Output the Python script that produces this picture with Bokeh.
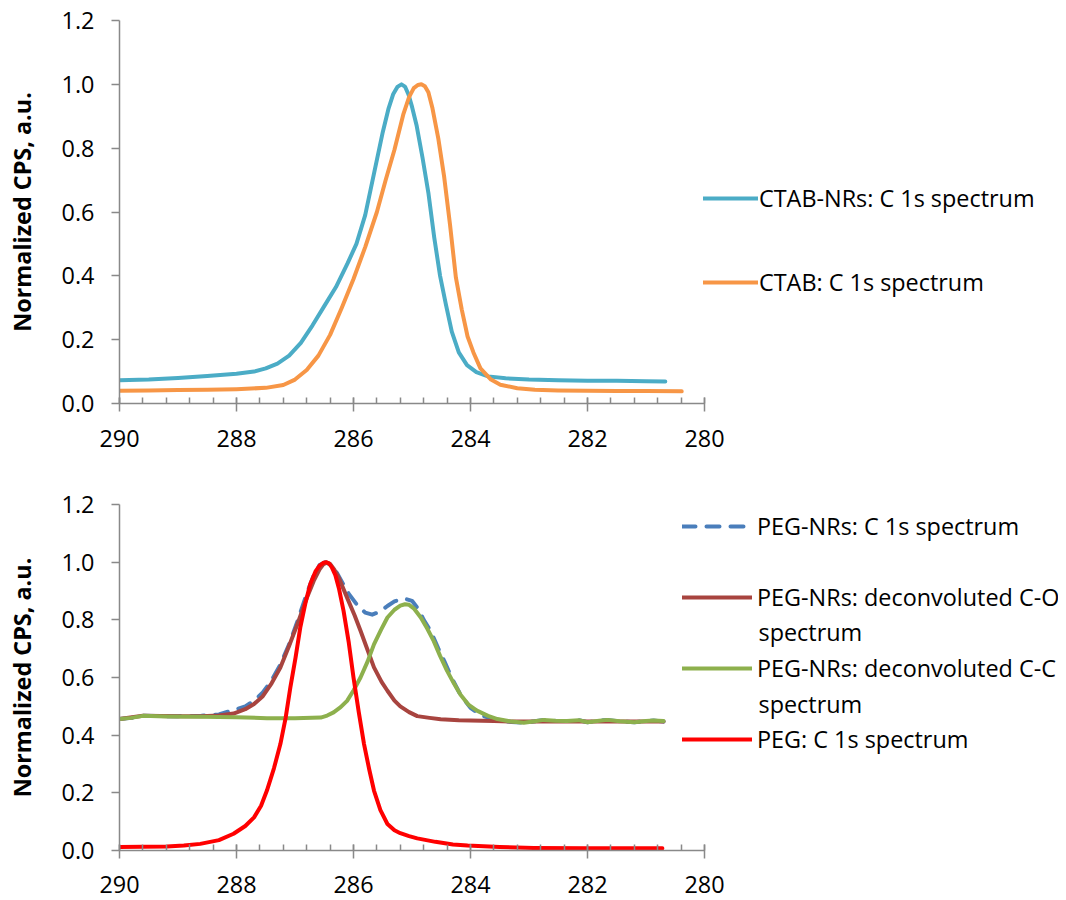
import numpy as np
from bokeh.plotting import figure
from bokeh.models import (Range1d, FixedTicker, PrintfTickFormatter, Legend, LegendItem, Label)
from bokeh.layouts import column
from bokeh.embed import file_html
from bokeh.resources import INLINE

# ---------------- data: top panel ----------------
ctab_nrs_x = [290.0, 289.5, 289.0, 288.5, 288.0, 287.7, 287.5, 287.3, 287.1, 286.9, 286.7, 286.5,
              286.3, 286.1, 285.95, 285.8, 285.65, 285.5, 285.4, 285.32, 285.25, 285.18, 285.12,
              285.06, 285.0, 284.92, 284.82, 284.72, 284.62, 284.52, 284.42, 284.32, 284.2,
              284.06, 283.9, 283.7, 283.4, 283.0, 282.5, 282.0, 281.5, 281.0, 280.67]
ctab_nrs_y = [0.073, 0.075, 0.080, 0.086, 0.093, 0.100, 0.110, 0.125, 0.150, 0.190, 0.245, 0.305,
              0.365, 0.440, 0.500, 0.590, 0.720, 0.850, 0.925, 0.970, 0.992, 1.000, 0.993,
              0.968, 0.930, 0.870, 0.770, 0.660, 0.520, 0.400, 0.310, 0.225, 0.160,
              0.120, 0.098, 0.085, 0.079, 0.075, 0.073, 0.071, 0.071, 0.070, 0.069]

ctab_x = [290.0, 289.5, 289.0, 288.5, 288.0, 287.5, 287.2, 287.0, 286.8, 286.6, 286.4, 286.2,
          286.0, 285.8, 285.6, 285.45, 285.3, 285.15, 285.05, 284.97, 284.9, 284.84, 284.78,
          284.72, 284.65, 284.55, 284.45, 284.35, 284.25, 284.15, 284.05, 283.95, 283.83,
          283.65, 283.49, 283.2, 282.9, 282.5, 282.0, 281.5, 281.0, 280.39]
ctab_y = [0.040, 0.041, 0.042, 0.043, 0.045, 0.049, 0.058, 0.075, 0.105, 0.150, 0.215, 0.300,
          0.390, 0.490, 0.600, 0.700, 0.795, 0.905, 0.960, 0.988, 0.998, 1.000, 0.994,
          0.975, 0.925, 0.830, 0.710, 0.560, 0.395, 0.295, 0.210, 0.160, 0.110,
          0.075, 0.059, 0.048, 0.043, 0.041, 0.040, 0.039, 0.039, 0.038]

# ---------------- data: bottom panel ----------------
peg_nrs_x = [290.0, 289.8, 289.6, 289.3, 289.0, 288.6, 288.3, 288.05, 287.85, 287.7, 287.55, 287.4,
             287.25, 287.1, 286.95, 286.8, 286.68, 286.58, 286.48, 286.38, 286.28, 286.18, 286.08,
             285.95, 285.8, 285.68, 285.55, 285.42, 285.3, 285.2, 285.1, 285.0, 284.9, 284.8,
             284.68, 284.55, 284.45, 284.3, 284.17, 284.0, 283.83, 283.65, 283.49, 283.3, 283.09,
             282.9, 282.75, 282.55, 282.35, 282.15, 282.0, 281.8, 281.66, 281.45, 281.2, 281.0,
             280.87, 280.7]
peg_nrs_y = [0.456, 0.460, 0.467, 0.466, 0.466, 0.467, 0.472, 0.487, 0.500, 0.519, 0.548, 0.590,
             0.645, 0.715, 0.800, 0.890, 0.955, 0.990, 1.000, 0.990, 0.962, 0.925, 0.890,
             0.855, 0.825, 0.818, 0.828, 0.848, 0.864, 0.871, 0.872, 0.866, 0.840, 0.800,
             0.761, 0.700, 0.658, 0.590, 0.540, 0.495, 0.470, 0.458, 0.450, 0.446, 0.443,
             0.448, 0.453, 0.450, 0.449, 0.452, 0.445, 0.450, 0.453, 0.448, 0.445, 0.449,
             0.451, 0.447]

co_x = [290.0, 289.6, 289.0, 288.6, 288.3, 288.05, 287.85, 287.7, 287.55, 287.4, 287.25, 287.1,
        286.95, 286.8, 286.68, 286.58, 286.52, 286.46, 286.4, 286.33, 286.25, 286.11, 285.98,
        285.88, 285.75, 285.65, 285.52, 285.42, 285.3, 285.2, 285.05, 284.91, 284.7, 284.51,
        284.2, 284.0, 283.6, 283.3, 282.5, 281.5, 280.7]
co_y = [0.456, 0.467, 0.466, 0.466, 0.468, 0.475, 0.490, 0.508, 0.535, 0.580, 0.635, 0.710,
        0.790, 0.875, 0.935, 0.975, 0.992, 0.998, 0.994, 0.975, 0.945, 0.877, 0.815,
        0.762, 0.690, 0.635, 0.585, 0.554, 0.520, 0.500, 0.480, 0.466, 0.460, 0.455,
        0.452, 0.451, 0.449, 0.447, 0.447, 0.447, 0.447]

cc_x = [290.0, 289.8, 289.6, 289.2, 288.6, 288.0, 287.48, 287.0, 286.56, 286.45, 286.34, 286.22,
        286.11, 286.0, 285.88, 285.76, 285.65, 285.53, 285.42, 285.3, 285.2, 285.12, 285.05,
        284.97, 284.85, 284.74, 284.63, 284.52, 284.4, 284.28, 284.17, 284.03, 283.89, 283.7,
        283.54, 283.3, 283.09, 282.9, 282.75, 282.55, 282.35, 282.15, 282.0, 281.8, 281.66,
        281.45, 281.2, 281.0, 280.87, 280.7]
cc_y = [0.456, 0.460, 0.467, 0.465, 0.464, 0.462, 0.459, 0.459, 0.461, 0.468, 0.479, 0.497,
        0.519, 0.555, 0.600, 0.655, 0.715, 0.765, 0.808, 0.835, 0.849, 0.854, 0.852,
        0.840, 0.808, 0.770, 0.727, 0.675, 0.623, 0.578, 0.540, 0.505, 0.485, 0.467,
        0.456, 0.447, 0.443, 0.448, 0.453, 0.450, 0.449, 0.452, 0.445, 0.450, 0.453,
        0.448, 0.445, 0.449, 0.451, 0.449]

peg_x = [290.0, 289.6, 289.19, 288.9, 288.62, 288.3, 288.05, 287.85, 287.7, 287.58, 287.48, 287.36,
         287.25, 287.16, 287.08, 286.99, 286.91, 286.82, 286.74, 286.65, 286.58, 286.52, 286.47,
         286.42, 286.37, 286.31, 286.25, 286.17, 286.08, 286.0, 285.91, 285.82, 285.73, 285.65,
         285.54, 285.42, 285.3, 285.2, 285.05, 284.91, 284.6, 284.3, 284.05, 283.5, 282.92,
         282.0, 281.3, 280.72]
peg_y = [0.012, 0.013, 0.014, 0.017, 0.023, 0.036, 0.058, 0.085, 0.115, 0.155, 0.208, 0.285,
         0.369, 0.460, 0.565, 0.670, 0.773, 0.860, 0.923, 0.968, 0.988, 0.997, 1.000,
         0.996, 0.982, 0.955, 0.910, 0.831, 0.720, 0.600, 0.480, 0.369, 0.280, 0.208,
         0.140, 0.092, 0.070, 0.060, 0.050, 0.042, 0.030, 0.021, 0.017, 0.012, 0.009,
         0.008, 0.008, 0.008]

x_major = [280, 282, 284, 286, 288, 290]
y_major = [0.0, 0.2, 0.4, 0.6, 0.8, 1.0, 1.2]

FONT = "Open Sans"
FS = "23.4px"
AXIS_COLOR = "#898989"


def make_fig(height, top, bottom, label_standoff):
    p = figure(width=1058, height=height,
               x_range=Range1d(290, 290 - 939 / 58.5), y_range=Range1d(0, 1.2),
               output_backend="svg", toolbar_location=None,
               min_border_left=119, min_border_right=0,
               min_border_top=top, min_border_bottom=bottom)
    p.outline_line_color = None
    p.xgrid.visible = False
    p.ygrid.visible = False
    p.background_fill_color = "white"
    p.border_fill_color = "white"

    xa = p.xaxis[0]
    xa.ticker = FixedTicker(ticks=x_major,
                            minor_ticks=[round(v, 1) for v in np.arange(280, 290.01, 0.4)])
    xa.bounds = (280, 290)
    xa.formatter = PrintfTickFormatter(format="%d")
    xa.axis_line_color = AXIS_COLOR
    xa.axis_line_width = 1.5
    xa.major_tick_line_color = AXIS_COLOR
    xa.major_tick_line_width = 1.5
    xa.minor_tick_line_color = AXIS_COLOR
    xa.minor_tick_line_width = 1.5
    xa.major_tick_in = 6
    xa.major_tick_out = 8
    xa.minor_tick_in = 6
    xa.minor_tick_out = 0
    xa.major_label_standoff = label_standoff
    xa.major_label_text_font = FONT
    xa.major_label_text_font_size = FS
    xa.major_label_text_color = "black"

    ya = p.yaxis[0]
    ya.ticker = FixedTicker(ticks=y_major)
    ya.formatter = PrintfTickFormatter(format="%.1f")
    ya.axis_line_color = AXIS_COLOR
    ya.axis_line_width = 1.5
    ya.major_tick_line_color = AXIS_COLOR
    ya.major_tick_line_width = 1.5
    ya.minor_tick_line_color = None
    ya.major_tick_in = 0
    ya.major_tick_out = 8
    ya.major_label_standoff = 17
    ya.major_label_text_font = FONT
    ya.major_label_text_font_size = FS
    ya.major_label_text_color = "black"
    ya.axis_label = "Normalized CPS, a.u."
    ya.axis_label_text_font = FONT
    ya.axis_label_text_font_size = FS
    ya.axis_label_text_font_style = "bold"
    ya.axis_label_text_color = "black"
    ya.axis_label_standoff = 21
    return p


def add_legend(p, renderer, text, left, bottom, glyph_w, standoff):
    lg = Legend(items=[LegendItem(label=text, renderers=[renderer])],
                location=(left, bottom), margin=0, padding=0, spacing=0,
                glyph_width=glyph_w, glyph_height=30, label_height=30,
                label_standoff=standoff, border_line_color=None,
                background_fill_alpha=0.0,
                label_text_font=FONT, label_text_font_size=FS,
                label_text_color="black")
    p.add_layout(lg, "center")


LW = 4

# ---------------- top figure (page y 0..470, frame 20..403) ----------------
p1 = make_fig(470, 20, 67, 18)
r_nrs = p1.line(ctab_nrs_x, ctab_nrs_y, line_color="#4BACC6", line_width=LW,
                line_cap="round", line_join="round")
r_ctab = p1.line(ctab_x, ctab_y, line_color="#F79646", line_width=LW,
                 line_cap="round", line_join="round")
add_legend(p1, r_nrs, "CTAB-NRs: C 1s spectrum", 584, 403 - 199 - 15, 55, 1)
add_legend(p1, r_ctab, "CTAB: C 1s spectrum", 584, 403 - 283 - 15, 55, 1)

# ---------------- bottom figure (page y 470..900, frame 504..850) ----------------
p2 = make_fig(430, 34, 50, 17)
r_pn = p2.line(peg_nrs_x, peg_nrs_y, line_color="#4A7EBB", line_width=LW,
               line_dash="13 11", line_cap="round", line_join="round")
r_co = p2.line(co_x, co_y, line_color="#A8443F", line_width=LW,
               line_cap="round", line_join="round")
r_cc = p2.line(cc_x, cc_y, line_color="#8DB04D", line_width=LW,
               line_cap="round", line_join="round")
r_peg = p2.line(peg_x, peg_y, line_color="#FF0000", line_width=LW,
                line_cap="round", line_join="round")
add_legend(p2, r_pn, "PEG-NRs: C 1s spectrum", 563, 850 - 527 - 15, 70, 5)
add_legend(p2, r_co, "PEG-NRs: deconvoluted C-O", 563, 850 - 598 - 15, 70, 5)
add_legend(p2, r_cc, "PEG-NRs: deconvoluted C-C", 563, 850 - 669 - 15, 70, 5)
add_legend(p2, r_peg, "PEG: C 1s spectrum", 563, 850 - 740 - 15, 70, 5)
for yy in (631, 703):
    p2.add_layout(Label(x=639, y=850 - yy, x_units="screen", y_units="screen",
                        text="spectrum", text_font=FONT, text_font_size=FS,
                        text_color="black", text_align="left", text_baseline="middle"))

layout = column(p1, p2, spacing=0)
open("out.html", "w").write(file_html(layout, INLINE))
